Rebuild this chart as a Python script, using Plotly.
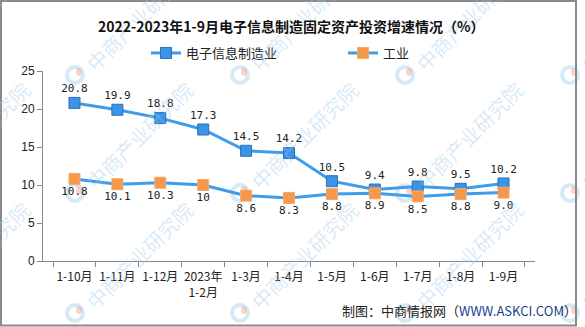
import plotly.graph_objects as go

# Categories and series values
categories = ["1-10月", "1-11月", "1-12月", "2023年<br>1-2月", "1-3月", "1-4月",
              "1-5月", "1-6月", "1-7月", "1-8月", "1-9月"]
electronics = [20.8, 19.9, 18.8, 17.3, 14.5, 14.2, 10.5, 9.4, 9.8, 9.5, 10.2]
electronics_labels = ["20.8", "19.9", "18.8", "17.3", "14.5", "14.2", "10.5", "9.4", "9.8", "9.5", "10.2"]
industry = [10.8, 10.1, 10.3, 10, 8.6, 8.3, 8.8, 8.9, 8.5, 8.8, 9.0]
industry_labels = ["10.8", "10.1", "10.3", "10", "8.6", "8.3", "8.8", "8.9", "8.5", "8.8", "9.0"]
y_ticks = [0, 5, 10, 15, 20, 25]

title_text = "2022-2023年1-9月电子信息制造固定资产投资增速情况（%）"
source_text = "制图：中商情报网（<span style='color:#1b3f8f'>WWW.ASKCI.COM</span>）"
watermark_text = "中商产业研究院"

W, H = 585, 327
ML, MR, MT, MB = 43, 50, 71, 66
PW, PH = W - ML - MR, H - MT - MB


def px(x):
    """Horizontal pixel position -> paper coordinate."""
    return (x - ML) / PW


def py(y):
    """Vertical pixel position (from top) -> paper coordinate."""
    return (H - MB - y) / PH


LINE_BLUE = "#3f9ce8"
CJK = "Noto Sans CJK SC"
MONO = "DejaVu Sans Mono"

fig = go.Figure()

fig.add_trace(go.Scatter(
    x=categories, y=electronics, name="电子信息制造业",
    mode="lines+markers+text", text=electronics_labels, textposition="top center",
    textfont=dict(family=MONO, size=11, color="#222"),
    line=dict(color=LINE_BLUE, width=3),
    marker=dict(symbol="square", size=11, color="#3b94e6",
                line=dict(color="#2a6fb8", width=1)),
    cliponaxis=False,
))
fig.add_trace(go.Scatter(
    x=categories, y=industry, name="工业",
    mode="lines+markers+text", text=industry_labels, textposition="bottom center",
    textfont=dict(family=MONO, size=11, color="#222"),
    line=dict(color=LINE_BLUE, width=3),
    marker=dict(symbol="square", size=11, color="#f5984c",
                line=dict(color="#f0aa6a", width=1)),
    cliponaxis=False,
))

# Faint diagonal watermark tiles
shapes = []
annotations = []
for ly in [75, 193, 313]:
    for lx in [-88, 75, 240, 405, 570]:
        shapes.append(dict(type="circle", xref="paper", yref="paper",
                           x0=px(lx - 8), x1=px(lx + 8), y0=py(ly + 8), y1=py(ly - 8),
                           line=dict(color="rgba(150,200,235,0.4)", width=4),
                           fillcolor="rgba(0,0,0,0)", layer="below"))
        shapes.append(dict(type="circle", xref="paper", yref="paper",
                           x0=px(lx + 1), x1=px(lx + 7), y0=py(ly + 1), y1=py(ly - 7),
                           line=dict(width=0),
                           fillcolor="rgba(245,170,150,0.5)", layer="below"))
        annotations.append(dict(
            x=px(lx + 64), y=py(ly - 58), xref="paper", yref="paper",
            xanchor="center", yanchor="middle",
            text=watermark_text, showarrow=False, textangle=-45,
            font=dict(family=CJK, size=20, color="rgba(150,200,235,0.38)"),
        ))

# Outer frame
shapes.append(dict(type="rect", xref="paper", yref="paper",
                   x0=px(1), x1=px(576), y0=py(325.5), y1=py(1),
                   line=dict(color="#8a8a8a", width=2), layer="above"))

annotations.append(dict(
    x=px(291), y=py(26), xref="paper", yref="paper",
    xanchor="center", yanchor="middle",
    text="<b>" + title_text + "</b>", showarrow=False,
    font=dict(family=CJK, size=14, color="#111"),
))
annotations.append(dict(
    x=px(579), y=py(310), xref="paper", yref="paper",
    xanchor="right", yanchor="middle",
    text=source_text, showarrow=False,
    font=dict(family=CJK, size=13, color="#222"),
))

fig.update_layout(
    width=W, height=H,
    margin=dict(l=ML, r=MR, t=MT, b=MB),
    paper_bgcolor="white", plot_bgcolor="rgba(0,0,0,0)",
    showlegend=True,
    legend=dict(orientation="h", x=px(146), y=py(53), xanchor="left", yanchor="middle",
                font=dict(family=CJK, size=13, color="#222"),
                entrywidth=152, bgcolor="rgba(0,0,0,0)"),
    shapes=shapes, annotations=annotations,
    xaxis=dict(type="category", showline=True, linecolor="#888", linewidth=1,
               ticks="outside", ticklen=5, tickcolor="#888", tickson="boundaries",
               showgrid=False, zeroline=False, tickangle=0, ticklabelstandoff=5,
               tickfont=dict(family=CJK, size=12, color="#222")),
    yaxis=dict(range=[0, 25], tickvals=y_ticks, showline=True, linecolor="#888", linewidth=1,
               ticks="outside", ticklen=5, tickcolor="#888",
               showgrid=False, zeroline=False,
               tickfont=dict(family="Liberation Sans", size=12, color="#222")),
)

fig.write_html("out.html")
